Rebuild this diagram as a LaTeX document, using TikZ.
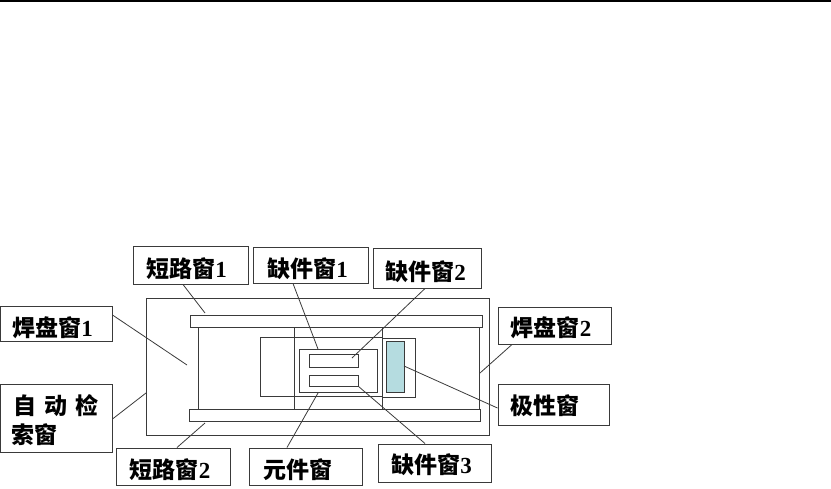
\documentclass[tikz,border=0pt]{standalone}
\usepackage{fontspec}
\setmainfont{Liberation Serif}
\newfontfamily\cjk{Noto Sans CJK SC}
\usepackage{xcolor}
\definecolor{polfill}{HTML}{B5DCE0}
\definecolor{linegray}{HTML}{3A3A3A}
% label text, moved by #1 to the right (twice the distance) and #2 down
\newcommand{\wintxt}[3]{\raisebox{#2}[0.8em][0.2em]{\makebox[0pt][c]{\hspace*{#1}#3}}}

\begin{document}
\begin{tikzpicture}[x=1pt,y=-1pt,
  winbox/.style={rectangle, draw=linegray, line width=1pt, fill=white, inner sep=0pt, font=\fontsize{23}{29}\selectfont\bfseries\cjk, text centered},
  part/.style={draw=linegray, line width=1pt},
  lead/.style={draw=linegray, line width=0.8pt}]
\useasboundingbox (0,0) rectangle (831,488);
\fill [black] (0,0) rectangle (831,2);

% outer frame and the two bars
\draw [part] (146,298) rectangle (489,435);
\draw [part] (198,327) -- (198,409);
\draw [part] (479,327) -- (479,409);
\draw [part] (294,327) -- (294,409);
\draw [part] (382,327) -- (382,409);
\draw [part] (190,315) rectangle (482,327);
\draw [part] (189,409) rectangle (480,421);

% inner windows
\draw [part] (260,337) rectangle (294,396);
\draw [part] (294,337) rectangle (382,396);
\draw [part] (299,349) rectangle (377,392);
\draw [part] (309,354) rectangle (358,367);
\draw [part] (309,375) rectangle (358,386);
\draw [part] (382,338) rectangle (415,397);
\draw [part, fill=polfill] (386,341) rectangle (404,392);

% free ends of the leaders
\coordinate (short1_end) at (205,313);
\coordinate (miss1_end) at (318,349);
\coordinate (miss2_end) at (352,358);
\coordinate (pad1_end) at (187,365);
\coordinate (auto_end) at (146,393);
\coordinate (short2_end) at (205,423);
\coordinate (comp_end) at (318,393);
\coordinate (miss3_end) at (358,386);
\coordinate (pol_end) at (404,366);
\coordinate (pad2_end) at (480,373);

% labels
\node [winbox, minimum width=115pt, minimum height=38pt] (short1) at (190.5,265) {\wintxt{-8pt}{-6pt}{短路窗{\rmfamily 1}}};
\node [winbox, minimum width=115pt, minimum height=36pt] (miss1) at (310.5,265) {\wintxt{-6pt}{-6pt}{缺件窗{\rmfamily 1}}};
\node [winbox, minimum width=108pt, minimum height=40pt] (miss2) at (427,268) {\wintxt{-3pt}{-6pt}{缺件窗{\rmfamily 2}}};
\node [winbox, minimum width=112pt, minimum height=35pt] (pad1) at (56,323.5) {\wintxt{-7pt}{-6pt}{焊盘窗{\rmfamily 1}}};
\node [winbox, minimum width=112pt, minimum height=68pt, text width=88pt, align=left] (auto) at (56,418) {\rule{0pt}{25pt}\hspace*{1.5pt}自\hspace{8pt}动\hspace{8pt}检\\索窗};
\node [winbox, minimum width=114pt, minimum height=37pt] (short2) at (173,466.5) {\wintxt{-6pt}{-5.5pt}{短路窗{\rmfamily 2}}};
\node [winbox, minimum width=113pt, minimum height=37pt] (comp) at (305.5,466.5) {\wintxt{-16pt}{-5.5pt}{元件窗}};
\node [winbox, minimum width=113pt, minimum height=38pt] (miss3) at (434.5,463) {\wintxt{-6pt}{-4pt}{缺件窗{\rmfamily 3}}};
\node [winbox, minimum width=113pt, minimum height=37pt] (pad2) at (554.5,325.5) {\wintxt{-7pt}{-4.5pt}{焊盘窗{\rmfamily 2}}};
\node [winbox, minimum width=111pt, minimum height=41pt] (pol) at (553.5,404.5) {\wintxt{-18pt}{-3.5pt}{极性窗}};

% leaders
\draw [lead] ([xshift=-7.5pt]short1.south) -- (short1_end);
\draw [lead] ([xshift=-17.5pt]miss1.south) -- (miss1_end);
\draw [lead] ([xshift=-2pt]miss2.south) -- (miss2_end);
\draw [lead] ([yshift=8.5pt]pad1.east) -- (pad1_end);
\draw [lead] ([yshift=-1pt]auto.east) -- (auto_end);
\draw [lead] ([xshift=4pt]short2.north) -- (short2_end);
\draw [lead] ([xshift=-18.5pt]comp.north) -- (comp_end);
\draw [lead] ([xshift=-9.5pt]miss3.north) -- (miss3_end);
\draw [lead] ([yshift=-3.5pt]pol.west) -- (pol_end);
\draw [lead] ([xshift=-42.5pt]pad2.south) -- (pad2_end);

\end{tikzpicture}
\end{document}
